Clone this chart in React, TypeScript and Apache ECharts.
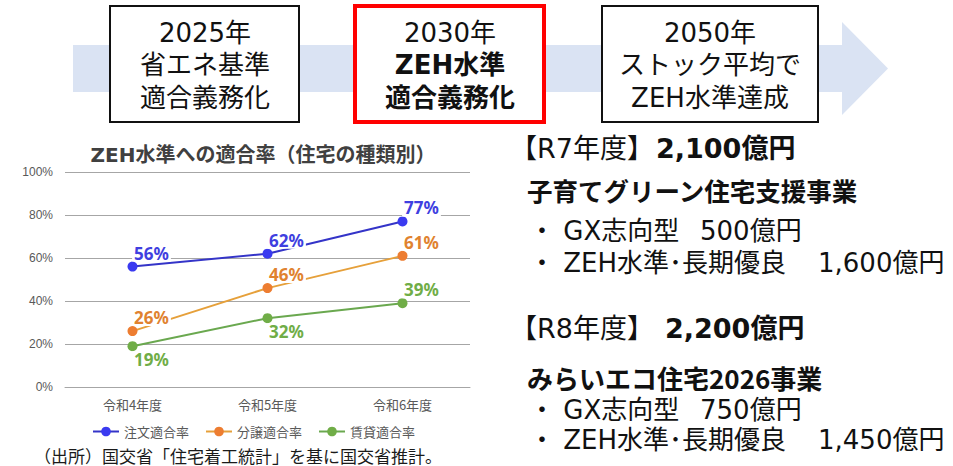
import React, { useEffect, useRef } from "react";
import * as echarts from "echarts";

const categories = ["令和4年度", "令和5年度", "令和6年度"];
const seriesNames = ["注文適合率", "分譲適合率", "賃貸適合率"];
const chumon = [56, 62, 77];
const bunjo = [26, 46, 61];
const chintai = [19, 32, 39];
const chintaiLabelPos = ["bottom", "bottom", "top"];
const yMax = 100;
const yInterval = 20;

const chartTitle = "ZEH水準への適合率（住宅の種類別）";
const sourceNote = "（出所）国交省「住宅着工統計」を基に国交省推計。";

const box1Lines = ["2025年", "省エネ基準", "適合義務化"];
const box2Lines = ["2030年", "ZEH水準", "適合義務化"];
const box3Lines = ["2050年", "ストック平均で", "ZEH水準達成"];

const r7Head = "【R7年度】";
const r7Total = "2,100億円";
const r7Project = "子育てグリーン住宅支援事業";
const r7Items = [["・ GX志向型", "500億円"], ["・ ZEH水準･長期優良", "1,600億円"]];
const r8Head = "【R8年度】";
const r8Total = "2,200億円";
const r8Project = "みらいエコ住宅2026事業";
const r8Items = [["・ GX志向型", "750億円"], ["・ ZEH水準･長期優良", "1,450億円"]];

const FF = "'DejaVu Sans', 'Noto Sans CJK JP', sans-serif";
const CJK = "'Noto Sans CJK JP', sans-serif";

function txt(x: number, y: number, text: string, size: number, opts: any = {}) {
  return {
    type: "text",
    x,
    y,
    style: {
      text,
      fontSize: size,
      fontFamily: opts.family || FF,
      fontWeight: opts.bold ? "bold" : "normal",
      fill: opts.color || "#111",
      textAlign: opts.align || "left",
      align: opts.align || "left",
      textVerticalAlign: "middle",
      verticalAlign: "middle",
    },
  };
}

export default function App() {
  const ref = useRef<HTMLDivElement>(null);
  useEffect(() => {
    const chart = echarts.init(ref.current!, null, { renderer: "svg" });
    const boxLineY = [33, 65, 98];
    const graphics: any[] = [
      { type: "rect", shape: { x: 73, y: 45, width: 770, height: 47 }, style: { fill: "#dae3f3" } },
      { type: "polygon", shape: { points: [[842, 22], [888, 68.5], [842, 115]] }, style: { fill: "#dae3f3" } },
      { type: "rect", shape: { x: 110, y: 6, width: 189, height: 116 }, style: { fill: "#fff", stroke: "#111", lineWidth: 2 } },
      { type: "rect", shape: { x: 355, y: 6, width: 189, height: 116 }, style: { fill: "#fff", stroke: "#ff0000", lineWidth: 4 } },
      { type: "rect", shape: { x: 602, y: 6, width: 216, height: 116 }, style: { fill: "#fff", stroke: "#111", lineWidth: 2 } },
      ...box1Lines.map((t, i) => txt(205, boxLineY[i], t, 26, { align: "center" })),
      ...box2Lines.map((t, i) => txt(450, boxLineY[i], t, 26, { align: "center", bold: i > 0 })),
      ...box3Lines.map((t, i) => txt(710, boxLineY[i], t, 26, { align: "center" })),
      txt(263, 155, chartTitle, 20, { align: "center", bold: true, color: "#404040" }),
      txt(34, 455, sourceNote, 17, { family: CJK, color: "#1a1a1a" }),
      // R7 block
      txt(510, 148, r7Head, 27),
      txt(656, 148, r7Total, 27, { bold: true }),
      txt(527, 189, r7Project, 25.5, { bold: true, family: CJK }),
      txt(529, 231, r7Items[0][0], 26),
      txt(700, 231, r7Items[0][1], 26),
      txt(529, 263, r7Items[1][0], 26),
      txt(818, 263, r7Items[1][1], 26),
      // R8 block
      txt(510, 328, r8Head, 27),
      txt(665, 328, r8Total, 27, { bold: true }),
      txt(527, 377, r8Project, 26, { bold: true, family: CJK }),
      txt(529, 410, r8Items[0][0], 26),
      txt(700, 410, r8Items[0][1], 26),
      txt(529, 440, r8Items[1][0], 26),
      txt(818, 440, r8Items[1][1], 26),
    ];

    const labelBase = {
      show: true,
      formatter: "{c}%",
      fontSize: 17,
      fontWeight: "bold",
      fontFamily: "'Noto Sans', sans-serif",
      backgroundColor: "#fff",
      padding: [0, 2],
      distance: 0,
      offset: [19, 0],
    };

    const option: any = {
      animation: false,
      backgroundColor: "#fff",
      graphic: graphics,
      grid: { left: 65, right: 483, top: 172, bottom: 79 },
      legend: {
        left: 92,
        top: 425,
        padding: 0,
        itemWidth: 26,
        itemHeight: 12,
        itemGap: 16,
        textStyle: { fontSize: 13, color: "#595959", fontFamily: CJK },
        data: seriesNames,
      },
      xAxis: {
        type: "category",
        data: categories,
        boundaryGap: true,
        axisTick: { show: false },
        axisLine: { show: true, lineStyle: { color: "#a6a6a6", width: 1 } },
        axisLabel: { color: "#595959", fontSize: 13, margin: 11, fontFamily: CJK },
      },
      yAxis: {
        type: "value",
        min: 0,
        max: yMax,
        interval: yInterval,
        axisLine: { show: false },
        axisTick: { show: false },
        splitLine: { lineStyle: { color: "#a6a6a6", width: 1 } },
        axisLabel: {
          formatter: "{value}%",
          color: "#595959",
          fontSize: 12,
          margin: 12,
          fontFamily: "'Liberation Sans', sans-serif",
        },
      },
      series: [
        {
          name: seriesNames[0],
          type: "line",
          data: chumon,
          symbol: "circle",
          symbolSize: 10,
          itemStyle: { color: "#3a3af0" },
          lineStyle: { color: "#3434c8", width: 2 },
          label: { ...labelBase, position: "top", color: "#3f3fe0" },
        },
        {
          name: seriesNames[1],
          type: "line",
          data: bunjo,
          symbol: "circle",
          symbolSize: 10,
          itemStyle: { color: "#ed7d31" },
          lineStyle: { color: "#e6a03a", width: 2 },
          label: { ...labelBase, position: "top", color: "#e0822f" },
        },
        {
          name: seriesNames[2],
          type: "line",
          data: chintai.map((v, i) => ({ value: v, label: { position: chintaiLabelPos[i] } })),
          symbol: "circle",
          symbolSize: 10,
          itemStyle: { color: "#70ad47" },
          lineStyle: { color: "#6aa84f", width: 2 },
          label: { ...labelBase, position: "top", color: "#70ad47" },
        },
      ],
    };
    chart.setOption(option);
    return () => chart.dispose();
  }, []);
  return (
    <div
      ref={ref}
      style={{ position: "absolute", left: 0, top: 0, width: 953, height: 466 }}
    />
  );
}
